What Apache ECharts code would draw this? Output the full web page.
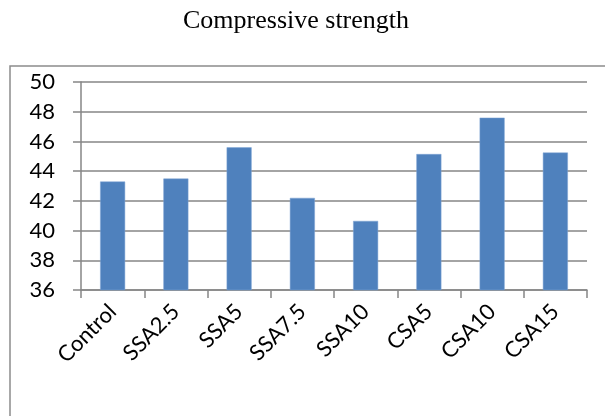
<!DOCTYPE html>
<html>
<head>
<meta charset="utf-8">
<script src="https://cdn.jsdelivr.net/npm/echarts@6/dist/echarts.min.js"></script>
<style>
  html, body { margin: 0; padding: 0; background: #fff; }
  #chart { width: 605px; height: 416px; }
</style>
</head>
<body>
<div id="chart"></div>
<script>
// Mix designations and their compressive strength (MPa)
var mixes = ['Control', 'SSA2.5', 'SSA5', 'SSA7.5', 'SSA10', 'CSA5', 'CSA10', 'CSA15'];
var strength = [43.3, 43.5, 45.6, 42.2, 40.65, 45.15, 47.6, 45.25];
var yMin = 36, yMax = 50, yStep = 2;

var chart = echarts.init(document.getElementById('chart'), null, { renderer: 'canvas' });
var axisGray = '#868686';
var labelFont = 'Lato, "Open Sans", sans-serif';

chart.setOption({
  animation: false,
  backgroundColor: '#ffffff',
  title: {
    text: 'Compressive strength',
    left: 178,
    top: 3,
    textStyle: {
      fontFamily: '"Liberation Serif", "DejaVu Serif", serif',
      fontWeight: 'normal',
      fontSize: 26,
      color: '#000'
    }
  },
  graphic: [{
    type: 'rect',
    shape: { x: 10, y: 66, width: 700, height: 500 },
    style: { fill: 'none', stroke: '#8c8c8c', lineWidth: 1.5 },
    silent: true
  }],
  grid: { left: 81, right: 18, top: 82, bottom: 126 },
  xAxis: {
    type: 'category',
    data: mixes,
    boundaryGap: true,
    axisLine: { lineStyle: { color: axisGray, width: 1.5 } },
    axisTick: { show: true, alignWithLabel: false, length: 8, lineStyle: { color: axisGray, width: 1.5 } },
    axisLabel: {
      rotate: 45,
      interval: 0,
      margin: 18,
      fontFamily: labelFont,
      fontSize: 22,
      color: '#000'
    }
  },
  yAxis: {
    type: 'value',
    min: yMin,
    max: yMax,
    interval: yStep,
    axisLine: { show: true, lineStyle: { color: axisGray, width: 1.5 } },
    axisTick: { show: true, length: 8, lineStyle: { color: axisGray, width: 1.5 } },
    splitLine: { show: true, lineStyle: { color: axisGray, width: 1.5 } },
    axisLabel: {
      margin: 26,
      fontFamily: labelFont,
      fontSize: 22,
      color: '#000'
    }
  },
  series: [{
    type: 'bar',
    data: strength,
    barWidth: 25,
    itemStyle: { color: '#4f81bd', borderColor: '#7ea4d4', borderWidth: 0.5 }
  }]
});
</script>
</body>
</html>
